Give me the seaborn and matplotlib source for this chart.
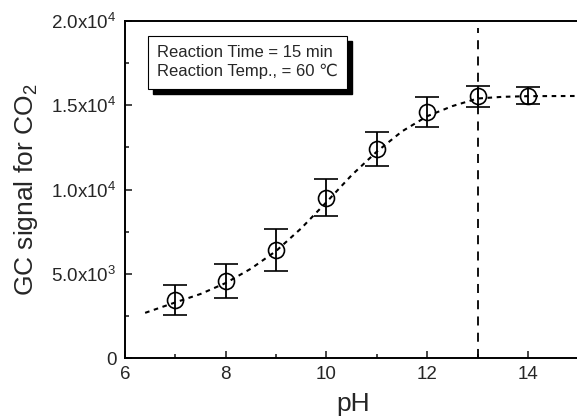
import numpy as np
import pandas as pd
import matplotlib
matplotlib.use('Agg')
import matplotlib.pyplot as plt
import seaborn as sns

ph = [7, 8, 9, 10, 11, 12, 13, 14]
signal = [3450, 4580, 6430, 9500, 12400, 14580, 15540, 15560]
err = [870, 1000, 1250, 1100, 1000, 900, 620, 500]

# Dotted fit curve
fit_ph = [6.4, 7.0, 7.5, 8.0, 8.5, 9.0, 9.5, 10.0, 10.5, 11.0, 11.5, 12.0, 12.5, 13.0, 13.5, 14.0, 15.0]
fit_signal = [2680, 3300, 3800, 4450, 5300, 6350, 7700, 9250, 10850, 12250, 13450, 14350, 14950, 15400, 15500, 15540, 15550]

y_ticks = [0, 5000, 10000, 15000, 20000]
y_tick_labels = ['0', '5.0x10$^3$', '1.0x10$^4$', '1.5x10$^4$', '2.0x10$^4$']
x_ticks = [6, 8, 10, 12, 14]

sns.set_style('ticks')
plt.rcParams['font.family'] = ['Liberation Sans', 'DejaVu Sans']
plt.rcParams['mathtext.default'] = 'regular'

fig = plt.figure(figsize=(5.77, 4.2), dpi=100)
ax = fig.add_axes([0.2166, 0.1476, 0.79, 0.8024])

fit_df = pd.DataFrame({'pH': fit_ph, 'signal': fit_signal})
sns.lineplot(data=fit_df, x='pH', y='signal', ax=ax, color='black',
             linestyle=(0, (2.2, 2.2)), linewidth=1.5)

ax.errorbar(ph, signal, yerr=err, fmt='o', mfc='none', mec='black',
            ms=11.5, mew=1.2, ecolor='black', elinewidth=1.3,
            capsize=8.5, capthick=1.3, zorder=3)

ax.axvline(13, ymin=0, ymax=0.98, color='black', linestyle=(0, (5, 4)), linewidth=1.3)

ax.set_xlim(6, 15.05)
ax.set_ylim(0, 20000)
ax.set_xticks(x_ticks)
ax.set_xticks([7, 9, 11, 13], minor=True)
ax.set_yticks(y_ticks)
ax.set_yticklabels(y_tick_labels)
ax.set_yticks([2500, 7500, 12500, 17500], minor=True)
ax.tick_params(axis='both', which='major', direction='in', length=5, width=1.2,
               labelsize=13.5, pad=6)
ax.tick_params(axis='both', which='minor', direction='in', length=3, width=1.2)

for side in ['left', 'bottom', 'top', 'right']:
    ax.spines[side].set_linewidth(1.4)
    ax.spines[side].set_color('black')

ax.set_xlabel('pH', fontsize=19, labelpad=6)
ax.set_ylabel('GC signal for CO$_2$', fontsize=19, labelpad=8)

ax.text(6.64, 17550, 'Reaction Time = 15 min\nReaction Temp., = 60 \u2103',
        fontsize=12, va='center', ha='left', linespacing=1.3, zorder=4,
        bbox=dict(boxstyle='square,pad=0.55', fc='white', ec='black', lw=0.8))

# black drop shadow behind the box
fig.canvas.draw()
bb = ax.texts[0].get_bbox_patch().get_window_extent()
inv = ax.transData.inverted()
(x0, y0), (x1, y1) = inv.transform([[bb.x0 + 5, bb.y0 - 5], [bb.x1 + 5, bb.y1 - 5]])
ax.add_patch(plt.Rectangle((x0, y0), x1 - x0, y1 - y0, fc='black', ec='black', zorder=2))

fig.savefig('out.png', dpi=100)
